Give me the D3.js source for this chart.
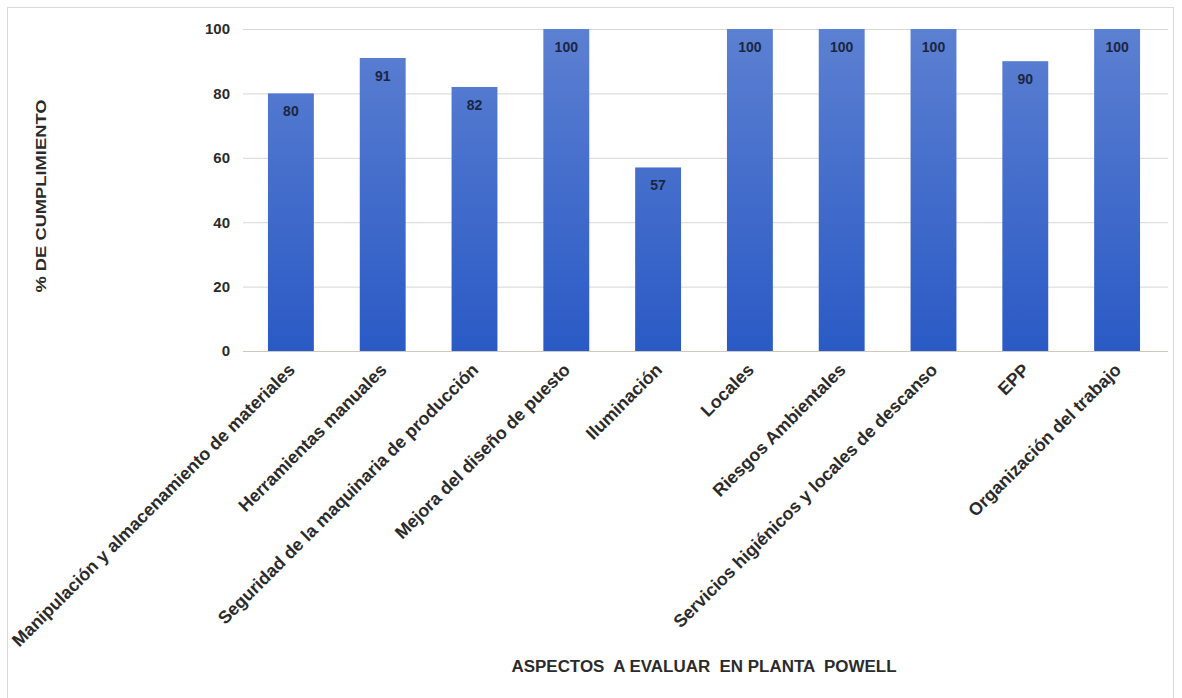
<!DOCTYPE html>
<html>
<head>
<meta charset="utf-8">
<script src="https://cdn.jsdelivr.net/npm/d3@7"></script>
<style>
  html, body { margin: 0; padding: 0; background: #fff; }
  svg { display: block; font-family: "Liberation Sans", Arial, sans-serif; }
</style>
</head>
<body>
<svg id="chart" width="1182" height="698"></svg>
<script>
// Compliance by evaluated aspect, Planta Powell
const categories = [
  "Manipulación y almacenamiento de materiales",
  "Herramientas manuales",
  "Seguridad de la maquinaria de producción",
  "Mejora del diseño de puesto",
  "Iluminación",
  "Locales",
  "Riesgos Ambientales",
  "Servicios higiénicos y locales de descanso",
  "EPP",
  "Organización del trabajo"
];
const values = [80, 91, 82, 100, 57, 100, 100, 100, 90, 100];
const yTicks = [0, 20, 40, 60, 80, 100];
const yTitle = "% DE CUMPLIMIENTO";
const xTitle = "ASPECTOS  A EVALUAR  EN PLANTA  POWELL";

const svg = d3.select("#chart");

// outer frame
svg.append("rect")
  .attr("x", 7.5).attr("y", 7.5)
  .attr("width", 1166).attr("height", 700)
  .attr("fill", "#fff").attr("stroke", "#d9d9d9");

const x = d3.scaleBand().domain(categories).range([245, 1163]).paddingInner(0.5).paddingOuter(0.25);
const y = d3.scaleLinear().domain([0, 100]).range([351, 29]);

const defs = svg.append("defs");
const grad = defs.append("linearGradient").attr("id", "barGrad")
  .attr("gradientUnits", "userSpaceOnUse")
  .attr("x1", 0).attr("x2", 0)
  .attr("y1", y(100)).attr("y2", y(0));
grad.append("stop").attr("offset", "0%").attr("stop-color", "#5c80d2");
grad.append("stop").attr("offset", "100%").attr("stop-color", "#2a5ac5");

// gridlines and y tick labels
const yAxis = d3.axisLeft(y).tickValues(yTicks).tickSize(-(1168 - 243)).tickPadding(13);
const gy = svg.append("g").attr("transform", "translate(243,0)").call(yAxis);
gy.select(".domain").remove();
gy.selectAll(".tick line").attr("stroke", "#d6d6d6").attr("stroke-width", 1);
gy.selectAll(".tick text")
  .attr("font-size", 15).attr("font-weight", "bold").attr("fill", "#2b2b2b");
gy.selectAll(".tick").filter(d => d === 0).select("line").attr("stroke", "#cfc8bc");

// bars
svg.append("g").selectAll("rect").data(categories).join("rect")
  .attr("x", d => x(d))
  .attr("y", (d, i) => y(values[i]))
  .attr("width", x.bandwidth())
  .attr("height", (d, i) => y(0) - y(values[i]))
  .attr("fill", "url(#barGrad)");

// value labels inside the top of each bar
svg.append("g").selectAll("text").data(categories).join("text")
  .attr("x", d => x(d) + x.bandwidth() / 2)
  .attr("y", (d, i) => y(values[i]) + 23)
  .attr("text-anchor", "middle")
  .attr("font-size", 14).attr("font-weight", "bold").attr("fill", "#1b2642")
  .text((d, i) => values[i]);

// category labels, rotated
const xAxis = d3.axisBottom(x).tickSize(0).tickPadding(0);
const gx = svg.append("g").attr("transform", "translate(0,351)").call(xAxis);
gx.select(".domain").remove();
gx.selectAll(".tick text")
  .attr("font-size", 17.8).attr("font-weight", "bold").attr("fill", "#2b2b2b")
  .attr("text-anchor", "end")
  .attr("dy", 0)
  .attr("transform", "translate(5,20) rotate(-45)");

// axis titles
svg.append("text")
  .attr("transform", "translate(46,196) rotate(-90)")
  .attr("text-anchor", "middle")
  .attr("font-size", 14).attr("font-weight", "bold").attr("fill", "#2b2b2b")
  .attr("textLength", 193).attr("lengthAdjust", "spacingAndGlyphs")
  .text(yTitle);

svg.append("text")
  .attr("x", 704).attr("y", 672)
  .attr("text-anchor", "middle")
  .attr("font-size", 16).attr("font-weight", "bold").attr("fill", "#2b2b2b")
  .style("white-space", "pre")
  .attr("textLength", 385).attr("lengthAdjust", "spacingAndGlyphs")
  .text(xTitle);
</script>
</body>
</html>
